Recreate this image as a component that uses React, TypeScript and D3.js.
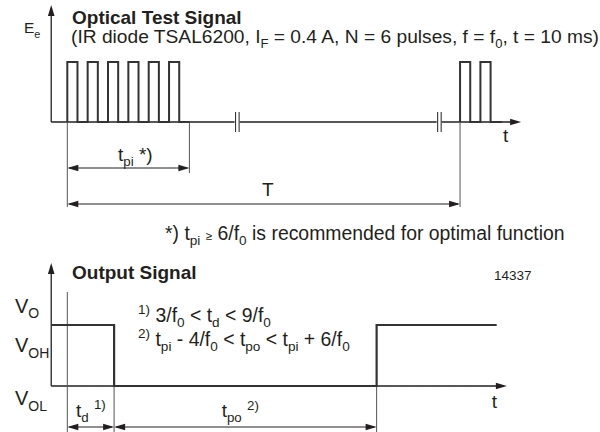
import React from 'react';
import * as d3 from 'd3';

// time in units of one carrier period (1/f0); first pulse starts at 0
const burstStarts = [0, 1, 2, 3, 4, 5];
const secondBurstStarts = [19.3, 20.3];
const pulseWidth = 0.5;
const burstEnd = 6;          // end of t_pi
const secondBurstEnd = 21.35;
const periodT = 19.3;        // T
const breakTimes = [8.27, 18.2];

// output signal (levels: 1 = V_OH, 0 = V_OL)
const outputTimes = [-0.79, 2.3, 15.2, 21.1];
const outputLevels = [1, 0, 1, 1];
const tdEnd = 2.3;
const tpoEnd = 15.2;

const axisStart = -0.79;
const topAxisEnd = 22.3;
const bottomAxisEnd = 21.6;

const INK = '#231f20';
const FONT = '"Liberation Sans", Arial, Helvetica, sans-serif';

type Part = [string, 'n' | 'sub' | 'sup' | 'small'];

const Rich = ({ x, y, size, parts, weight, anchor, subScale }: { x: number; y: number; size: number; parts: Part[]; weight?: string; anchor?: string; subScale?: number }) => {
  let cur = 0;
  return (
    <text x={x} y={y} fontSize={size} fontFamily={FONT} fontWeight={weight || 'normal'} fill={INK} textAnchor={anchor || 'start'}>
      {parts.map(([t, k], i) => {
        const off = k === 'sub' ? size * 0.28 : k === 'sup' ? -size * 0.38 : 0;
        const dy = off - cur;
        cur = off;
        const fs = k === 'n' ? size : k === 'small' ? size * 0.6 : size * (subScale || 0.7);
        return (
          <tspan key={i} dy={dy} fontSize={fs}>{t}</tspan>
        );
      })}
    </text>
  );
};

const Arrow = ({ x, y, dir }: { x: number; y: number; dir: 'left' | 'right' | 'up' }) => {
  const L = 11, W = 3.3;
  let pts = '';
  if (dir === 'right') pts = `${x},${y} ${x - L},${y - W} ${x - L},${y + W}`;
  if (dir === 'left') pts = `${x},${y} ${x + L},${y - W} ${x + L},${y + W}`;
  if (dir === 'up') pts = `${x},${y} ${x - W},${y + L} ${x + W},${y + L}`;
  return <polygon points={pts} fill={INK} />;
};

const DimLine = ({ x1, x2, y }: { x1: number; x2: number; y: number }) => (
  <g>
    <line x1={x1 + 2} x2={x2 - 2} y1={y} y2={y} stroke={INK} strokeWidth={1} />
    <Arrow x={x1} y={y} dir="left" />
    <Arrow x={x2} y={y} dir="right" />
  </g>
);

export default function App() {
  const x = d3.scaleLinear().domain([0, 1]).range([67.3, 87.65]);
  const yTop = d3.scaleLinear().domain([0, 1]).range([122, 62]);
  const yOut = d3.scaleLinear().domain([0, 1]).range([386, 325]);

  const pulsePoints = (starts: number[], end: number): [number, number][] => {
    const pts: [number, number][] = [];
    starts.forEach(s => {
      pts.push([s, 0], [s, 1], [s + pulseWidth, 1], [s + pulseWidth, 0]);
    });
    pts.push([end, 0]);
    return pts;
  };

  const line = d3.line<[number, number]>().x(d => x(d[0])).y(d => yTop(d[1]));
  const outLine = d3.line<number>()
    .x(d => x(d))
    .y((d, i) => yOut(outputLevels[i]))
    .curve(d3.curveStepAfter);

  const ax0 = x(axisStart);

  return (
    <svg width={600} height={432} style={{ position: 'absolute', left: 0, top: 0, background: '#fff' }}>
      {/* top panel axes */}
      <line x1={ax0} x2={ax0} y1={yTop(0)} y2={8} stroke={INK} strokeWidth={1.3} />
      <Arrow x={ax0} y={5} dir="up" />
      <line x1={ax0} x2={x(topAxisEnd) - 4} y1={yTop(0)} y2={yTop(0)} stroke={INK} strokeWidth={1.3} />
      <Arrow x={x(topAxisEnd)} y={yTop(0)} dir="right" />

      {/* axis breaks */}
      {breakTimes.map((b, i) => (
        <g key={i}>
          <rect x={x(b) - 1} y={yTop(0) - 2} width={5} height={4} fill="#fff" />
          <line x1={x(b)} x2={x(b)} y1={112} y2={132} stroke={INK} strokeWidth={1} />
          <line x1={x(b) + 3.5} x2={x(b) + 3.5} y1={112} y2={132} stroke={INK} strokeWidth={1} />
        </g>
      ))}

      {/* extension lines */}
      <line x1={x(0)} x2={x(0)} y1={yTop(0)} y2={207} stroke="#555" strokeWidth={1} />
      <line x1={x(burstEnd)} x2={x(burstEnd)} y1={yTop(0)} y2={173} stroke="#555" strokeWidth={1} />
      <line x1={x(periodT)} x2={x(periodT)} y1={yTop(0)} y2={207} stroke="#555" strokeWidth={1} />

      {/* pulses */}
      <path d={line(pulsePoints(burstStarts, burstEnd)) || ''} fill="none" stroke="#333" strokeWidth={2} strokeLinejoin="miter" />
      <path d={line(pulsePoints(secondBurstStarts, secondBurstEnd)) || ''} fill="none" stroke="#333" strokeWidth={2} />

      <DimLine x1={x(0)} x2={x(burstEnd)} y={168} />
      <DimLine x1={x(0)} x2={x(periodT)} y={204} />

      <Rich x={24} y={33.3} size={15.5} parts={[['E', 'n'], ['e', 'sub']]} />
      <Rich x={72} y={24} size={19} weight="bold" parts={[['Optical Test Signal', 'n']]} />
      <Rich x={71} y={42.5} size={19.2} subScale={0.68} parts={[
        ['(IR diode TSAL6200, I', 'n'], ['F', 'sub'], [' = 0.4 A, N = 6 pulses, f = f', 'n'], ['0', 'sub'], [', t = 10 ms)', 'n'],
      ]} />
      <Rich x={503} y={141.5} size={19} parts={[['t', 'n']]} />
      <Rich x={118} y={160.5} size={19} parts={[['t', 'n'], ['pi', 'sub'], [' *)', 'n']]} />
      <Rich x={262} y={196} size={19} parts={[['T', 'n']]} />
      <Rich x={165} y={239.5} size={19.4} parts={[
        ['*) t', 'n'], ['pi', 'sub'], [' ', 'n'], ['≥', 'small'], [' 6/f', 'n'], ['0', 'sub'], [' is recommended for optimal function', 'n'],
      ]} />

      {/* bottom panel */}
      <Rich x={72} y={279} size={19} weight="bold" parts={[['Output Signal', 'n']]} />
      <Rich x={494} y={280} size={13.5} parts={[['14337', 'n']]} />

      <line x1={ax0} x2={ax0} y1={yOut(0)} y2={266} stroke={INK} strokeWidth={1.3} />
      <Arrow x={ax0} y={263} dir="up" />
      <line x1={ax0} x2={x(bottomAxisEnd) - 4} y1={yOut(0)} y2={yOut(0)} stroke={INK} strokeWidth={1.3} />
      <Arrow x={x(bottomAxisEnd)} y={yOut(0)} dir="right" />

      <line x1={x(0)} x2={x(0)} y1={292} y2={432} stroke="#555" strokeWidth={1} />
      <line x1={x(tdEnd)} x2={x(tdEnd)} y1={yOut(0)} y2={432} stroke="#555" strokeWidth={1} />
      <line x1={x(tpoEnd)} x2={x(tpoEnd)} y1={yOut(0)} y2={432} stroke="#555" strokeWidth={1} />

      <path d={outLine(outputTimes) || ''} fill="none" stroke="#333" strokeWidth={2.2} />

      <DimLine x1={x(0)} x2={x(tdEnd)} y={427} />
      <DimLine x1={x(tdEnd)} x2={x(tpoEnd)} y={427} />

      <Rich x={15} y={312.5} size={20} parts={[['V', 'n'], ['O', 'sub']]} />
      <Rich x={15} y={352} size={20} parts={[['V', 'n'], ['OH', 'sub']]} />
      <Rich x={15} y={405} size={20} parts={[['V', 'n'], ['OL', 'sub']]} />

      <Rich x={138} y={321.5} size={19.4} parts={[
        ['1)', 'sup'], [' 3/f', 'n'], ['0', 'sub'], [' < t', 'n'], ['d', 'sub'], [' < 9/f', 'n'], ['0', 'sub'],
      ]} />
      <Rich x={138} y={345.5} size={19.4} parts={[
        ['2)', 'sup'], [' t', 'n'], ['pi', 'sub'], [' - 4/f', 'n'], ['0', 'sub'], [' < t', 'n'], ['po', 'sub'], [' < t', 'n'], ['pi', 'sub'], [' + 6/f', 'n'], ['0', 'sub'],
      ]} />

      <Rich x={76} y={416.5} size={19} parts={[['t', 'n'], ['d', 'sub'], [' ', 'n'], ['1)', 'sup']]} />
      <Rich x={221.7} y={417} size={19} parts={[['t', 'n'], ['po', 'sub'], [' ', 'n'], ['2)', 'sup']]} />
      <Rich x={491.7} y={408} size={19} parts={[['t', 'n']]} />
    </svg>
  );
}
